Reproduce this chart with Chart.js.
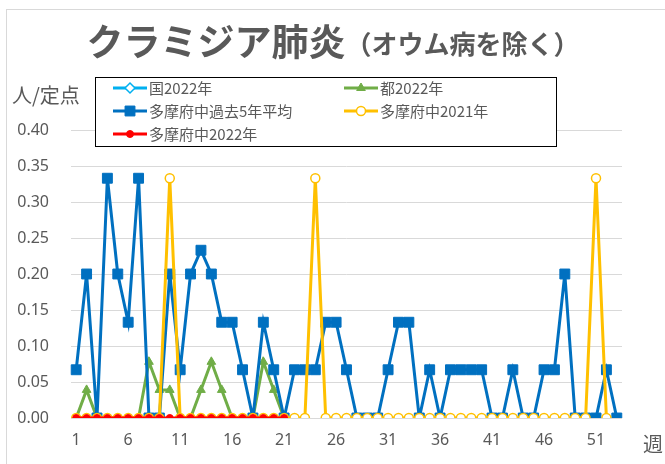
<!DOCTYPE html>
<html>
<head>
<meta charset="utf-8">
<script src="https://cdn.jsdelivr.net/npm/chart.js@4"></script>
<style>
  html, body { margin: 0; padding: 0; background: #fff; }
</style>
</head>
<body>
<canvas id="chlamydiaChart" width="665" height="464"></canvas>
<script>
// 週 (category labels)
const weeks = ['1','2','3','4','5','6','7','8','9','10','11','12','13','14','15','16','17','18','19','20',
  '21','22','23','24','25','26','27','28','29','30','31','32','33','34','35','36','37','38','39','40',
  '41','42','43','44','45','46','47','48','49','50','51','52','53'];

const yTicks = [0, 0.05, 0.1, 0.15, 0.2, 0.25, 0.3, 0.35, 0.4];

// 国2022年 (not visible in the picture)
const national2022 = [];
// 都2022年
const tokyo2022 = [0, 0.039, 0, 0, 0, 0, 0, 0.078, 0.039, 0.039, 0, 0, 0.039, 0.078, 0.039, 0, 0, 0, 0.078, 0.039, 0];
// 多摩府中過去5年平均
const tamaFuchuAvg5 = [0.067, 0.2, 0, 0.333, 0.2, 0.133, 0.333, 0, 0, 0.2,
  0.067, 0.2, 0.233, 0.2, 0.133, 0.133, 0.067, 0, 0.133, 0.067,
  0, 0.067, 0.067, 0.067, 0.133, 0.133, 0.067, 0, 0, 0,
  0.067, 0.133, 0.133, 0, 0.067, 0, 0.067, 0.067, 0.067, 0.067,
  0, 0, 0.067, 0, 0, 0.067, 0.067, 0.2, 0, 0,
  0, 0.067, 0];
// 多摩府中2021年
const tamaFuchu2021 = [0, 0, 0, 0, 0, 0, 0, 0, 0, 0.333,
  0, 0, 0, 0, 0, 0, 0, 0, 0, 0,
  0, 0, 0, 0.333, 0, 0, 0, 0, 0, 0,
  0, 0, 0, 0, 0, 0, 0, 0, 0, 0,
  0, 0, 0, 0, 0, 0, 0, 0, 0, 0,
  0.333, 0];
// 多摩府中2022年
const tamaFuchu2022 = [0, 0, 0, 0, 0, 0, 0, 0, 0, 0, 0, 0, 0, 0, 0, 0, 0, 0, 0, 0, 0];

const textColor = '#595959';
const jpFont = "'Noto Sans CJK JP', 'Noto Sans', sans-serif";
const numFont = "'Noto Sans', 'Noto Sans CJK JP', sans-serif";

const lineWidth = 3;

const datasets = [
  {
    label: '国2022年',
    data: national2022,
    borderColor: '#00B0F0',
    backgroundColor: '#ffffff',
    pointStyle: 'rectRot',
    pointRadius: 5,
    pointBorderWidth: 1.5,
    borderWidth: lineWidth,
    order: 5,
  },
  {
    label: '都2022年',
    data: tokyo2022,
    borderColor: '#70AD47',
    backgroundColor: '#70AD47',
    pointStyle: 'triangle',
    pointRadius: 5,
    pointBorderWidth: 1,
    borderWidth: lineWidth,
    order: 4,
  },
  {
    label: '多摩府中過去5年平均',
    data: tamaFuchuAvg5,
    borderColor: '#0070C0',
    backgroundColor: '#0070C0',
    pointStyle: 'rect',
    pointRadius: 7,
    pointBorderWidth: 1,
    borderWidth: lineWidth,
    order: 3,
  },
  {
    label: '多摩府中2021年',
    data: tamaFuchu2021,
    borderColor: '#FFC000',
    backgroundColor: '#ffffff',
    pointStyle: 'circle',
    pointRadius: 4.5,
    pointBorderWidth: 1.5,
    borderWidth: lineWidth,
    order: 2,
  },
  {
    label: '多摩府中2022年',
    data: tamaFuchu2022,
    borderColor: '#FF0000',
    backgroundColor: '#FF0000',
    pointStyle: 'circle',
    pointRadius: 3.5,
    pointBorderWidth: 1,
    borderWidth: lineWidth,
    order: 1,
  },
];

// legend slots: [marker center x, row center y]
const legendSlots = [[130, 88], [361, 88], [130, 111], [361, 111], [130, 134]];

function drawMarker(ctx, ds, x, y) {
  ctx.save();
  ctx.strokeStyle = ds.borderColor;
  ctx.lineWidth = lineWidth;
  ctx.beginPath();
  ctx.moveTo(x - 17, y);
  ctx.lineTo(x + 17, y);
  ctx.stroke();
  ctx.fillStyle = ds.backgroundColor;
  ctx.lineWidth = ds.pointBorderWidth;
  Chart.helpers.drawPoint(ctx, {
    pointStyle: ds.pointStyle,
    radius: ds.pointRadius,
    borderWidth: ds.pointBorderWidth,
    rotation: 0,
  }, x, y);
  ctx.restore();
}

const decorPlugin = {
  id: 'decor',
  beforeDraw(chart) {
    const ctx = chart.ctx;
    ctx.save();
    ctx.fillStyle = '#ffffff';
    ctx.fillRect(0, 0, chart.width, chart.height);
    ctx.strokeStyle = '#d9d9d9';
    ctx.lineWidth = 1;
    ctx.strokeRect(6.5, 9.5, 800, 600);
    ctx.restore();
  },
  afterDraw(chart) {
    const ctx = chart.ctx;
    ctx.save();
    ctx.fillStyle = textColor;
    ctx.textBaseline = 'middle';

    // title
    const mainTitle = 'クラミジア肺炎';
    const subTitle = '（オウム病を除く）';
    ctx.font = 'bold 37px ' + jpFont;
    const w1 = ctx.measureText(mainTitle).width;
    ctx.font = 'bold 26px ' + jpFont;
    const w2 = ctx.measureText(subTitle).width;
    const tx = 333 - (w1 + w2) / 2;
    ctx.textAlign = 'left';
    ctx.font = 'bold 37px ' + jpFont;
    ctx.fillText(mainTitle, tx, 42);
    ctx.font = 'bold 26px ' + jpFont;
    ctx.fillText(subTitle, tx + w1, 44);

    // axis titles
    ctx.font = '20px ' + jpFont;
    ctx.fillText('人/定点', 12, 95);
    ctx.fillText('週', 643, 444);

    // legend box
    ctx.fillStyle = '#ffffff';
    ctx.fillRect(95.5, 77.5, 461, 69);
    ctx.strokeStyle = '#000000';
    ctx.lineWidth = 1;
    ctx.strokeRect(95.5, 77.5, 461, 69);
    ctx.font = '15px ' + jpFont;
    chart.data.datasets.forEach((ds, i) => {
      const [mx, my] = legendSlots[i];
      drawMarker(ctx, ds, mx, my);
      ctx.fillStyle = textColor;
      ctx.fillText(ds.label, mx + 19, my);
    });
    ctx.restore();
  },
};

const ctx = document.getElementById('chlamydiaChart').getContext('2d');

const chlamydiaChart = new Chart(ctx, {
  type: 'line',
  data: {
    labels: weeks,
    datasets,
  },
  options: {
    responsive: false,
    animation: false,
    layout: {
      padding: { top: 130, right: 43, bottom: 0, left: 0 },
    },
    plugins: {
      legend: { display: false },
      title: { display: false },
      tooltip: { enabled: false },
    },
    scales: {
      x: {
        offset: true,
        grid: { display: false, drawTicks: false },
        border: { display: false },
        ticks: {
          autoSkip: false,
          maxRotation: 0,
          padding: 13,
          color: textColor,
          font: { family: numFont, size: 16 },
          callback: (value, index) => (index % 5 === 0 ? weeks[index] : null),
        },
        afterFit: (scale) => { scale.height = 46; },
      },
      y: {
        min: 0,
        max: 0.4,
        afterBuildTicks: (scale) => { scale.ticks = yTicks.map((v) => ({ value: v })); },
        grid: { color: '#d9d9d9', lineWidth: 1, drawTicks: false },
        border: { display: false },
        ticks: {
          padding: 22,
          color: textColor,
          font: { family: numFont, size: 16 },
          callback: (value) => value.toFixed(2),
        },
        afterFit: (scale) => { scale.width = 71; },
      },
    },
  },
  plugins: [decorPlugin],
});
</script>
</body>
</html>
